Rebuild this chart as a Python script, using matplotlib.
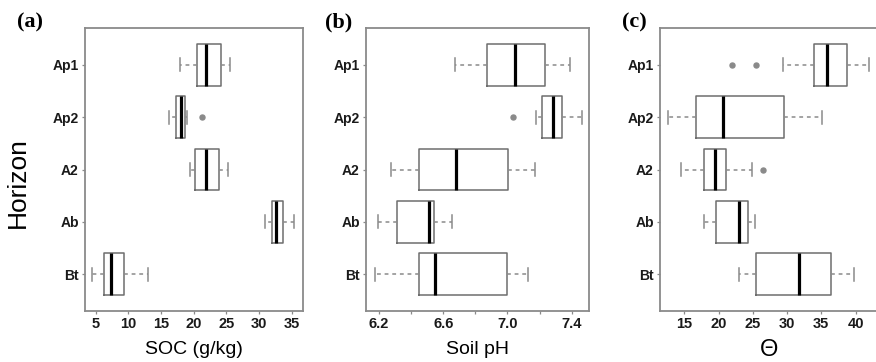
import matplotlib
matplotlib.use("Agg")
import matplotlib.pyplot as plt

# horizons, bottom to top
horizons = ["Bt", "Ab", "A2", "Ap2", "Ap1"]

# (whislo, q1, med, q3, whishi) per horizon, same order as horizons
soc_stats = [(4.5, 6.3, 7.4, 9.3, 13.0),
             (30.9, 32.0, 32.6, 33.6, 35.3),
             (19.4, 20.2, 21.8, 23.8, 25.3),
             (16.2, 17.3, 18.1, 18.6, 19.0),
             (17.9, 20.5, 21.8, 24.1, 25.6)]
soc_fliers = [[], [], [], [21.3], []]

ph_stats = [(6.175, 6.451, 6.549, 7.0, 7.128),
            (6.196, 6.314, 6.513, 6.542, 6.653),
            (6.273, 6.447, 6.678, 7.005, 7.173),
            (7.178, 7.217, 7.285, 7.338, 7.462),
            (6.673, 6.874, 7.049, 7.232, 7.388)]
ph_fliers = [[], [], [], [7.032], []]

theta_stats = [(23.0, 25.4, 31.7, 36.35, 39.75),
               (17.9, 19.57, 23.0, 24.24, 25.36),
               (14.48, 17.87, 19.52, 21.08, 24.83),
               (12.58, 16.66, 20.69, 29.54, 35.13),
               (29.45, 33.92, 35.77, 38.68, 41.98)]
theta_fliers = [[], [], [26.52], [], [21.91, 25.41]]

soc_ticks = [5, 10, 15, 20, 25, 30, 35]
ph_ticks = [6.2, 6.4, 6.6, 6.8, 7.0, 7.2, 7.4]
ph_ticklabels = ["6.2", "", "6.6", "", "7.0", "", "7.4"]
theta_ticks = [15, 20, 25, 30, 35, 40]

W, H = 876, 362
fig = plt.figure(figsize=(W / 100, H / 100), dpi=100)

gray = "#6e6e6e"
light = "#8a8a8a"


def make_panel(rect, stats, fliers, xlim, ticks, ticklabels, xlabel, tag, tag_x,
               xlabel_size=14):
    ax = fig.add_axes([rect[0] / W, (H - 311) / H, rect[1] / W, 283 / H])
    boxes = []
    for (lo, q1, med, q3, hi), fl in zip(stats, fliers):
        boxes.append(dict(whislo=lo, q1=q1, med=med, q3=q3, whishi=hi, fliers=fl))
    ax.bxp(boxes, positions=range(1, len(boxes) + 1), vert=False, widths=0.8,
           capwidths=0.25, patch_artist=False, showfliers=True,
           boxprops=dict(color=gray, linewidth=1.1),
           medianprops=dict(color="black", linewidth=2.3, solid_capstyle="butt"),
           whiskerprops=dict(color=light, linewidth=1.1, linestyle=(0, (2.5, 2.5))),
           capprops=dict(color=light, linewidth=1.1),
           flierprops=dict(marker="o", markersize=3.6, markerfacecolor=light,
                           markeredgecolor=light))
    ax.set_ylim(0.3, 5.7)
    ax.set_xlim(*xlim)
    ax.set_yticks(range(1, 6))
    ax.set_yticklabels(horizons, fontfamily="Liberation Sans", fontweight="bold",
                       fontsize=10, color="#1a1a1a")
    ax.set_xticks(ticks)
    ax.set_xticklabels(ticklabels, fontfamily="Liberation Sans", fontweight="bold",
                       fontsize=10.5, color="#1a1a1a")
    ax.tick_params(length=2.5, width=0.9, color=light, pad=2)
    for s in ax.spines.values():
        s.set_color(light)
        s.set_linewidth(1.3)
    ax.set_xlabel(xlabel, fontfamily="Liberation Sans", fontsize=xlabel_size)
    ax.xaxis.set_label_coords(0.5, -(350 - 311) / 283)
    ax.xaxis.label.set_va("center")
    fig.text(tag_x / W, 1 - 22 / H, tag, fontfamily="Liberation Serif",
             fontweight="bold", fontsize=16, va="center", ha="left")
    return ax


ax1 = make_panel((85, 218), soc_stats, soc_fliers, (3.37, 36.7), soc_ticks,
                 [str(t) for t in soc_ticks], "SOC (g/kg)", "(a)", 17)
ax1.set_ylabel("Horizon", fontfamily="Liberation Sans", fontsize=19)
ax1.yaxis.set_label_coords(-(85 - 18) / 218, (311 - 183) / 283)
ax1.yaxis.label.set_va("center")

ax2 = make_panel((366, 222.7), ph_stats, ph_fliers, (6.119, 7.506), ph_ticks,
                 ph_ticklabels, "Soil pH", "(b)", 325)

ax3 = make_panel((660, 217.5), theta_stats, theta_fliers, (11.46, 43.2), theta_ticks,
                 [str(t) for t in theta_ticks], "Θ", "(c)", 622, xlabel_size=17)

fig.savefig("out.png", dpi=100)
